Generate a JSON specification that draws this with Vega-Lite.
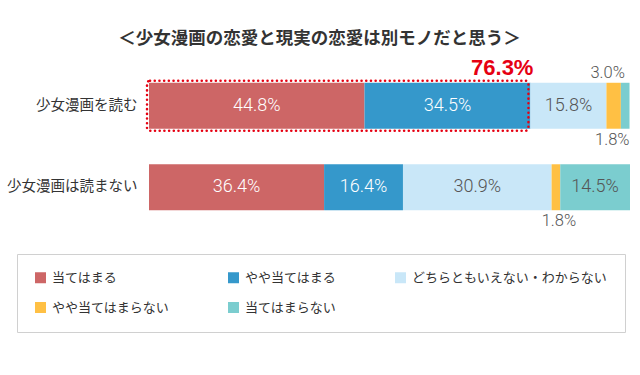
{
  "$schema": "https://vega.github.io/schema/vega-lite/v6.json",
  "autosize": "none",
  "width": 481,
  "height": 163,
  "padding": {"left": 149, "top": 65, "right": 10, "bottom": 147},
  "background": "white",
  "title": {
    "text": "＜少女漫画の恋愛と現実の恋愛は別モノだと思う＞",
    "font": "Noto Sans CJK JP",
    "fontSize": 17.5,
    "fontWeight": "bold",
    "color": "#333333",
    "anchor": "middle",
    "dx": -70,
    "offset": 9
  },
  "data": {
    "values": [
      {"cat": "少女漫画を読む", "resp": "当てはまる", "k": 1, "value": 0.448},
      {"cat": "少女漫画を読む", "resp": "やや当てはまる", "k": 2, "value": 0.345},
      {"cat": "少女漫画を読む", "resp": "どちらともいえない・わからない", "k": 3, "value": 0.158},
      {"cat": "少女漫画を読む", "resp": "やや当てはまらない", "k": 4, "value": 0.030},
      {"cat": "少女漫画を読む", "resp": "当てはまらない", "k": 5, "value": 0.018},
      {"cat": "少女漫画は読まない", "resp": "当てはまる", "k": 1, "value": 0.364},
      {"cat": "少女漫画は読まない", "resp": "やや当てはまる", "k": 2, "value": 0.164},
      {"cat": "少女漫画は読まない", "resp": "どちらともいえない・わからない", "k": 3, "value": 0.309},
      {"cat": "少女漫画は読まない", "resp": "やや当てはまらない", "k": 4, "value": 0.018},
      {"cat": "少女漫画は読まない", "resp": "当てはまらない", "k": 5, "value": 0.145}
    ]
  },
  "encoding": {
    "y": {
      "field": "cat",
      "type": "nominal",
      "scale": {"domain": ["少女漫画を読む", "少女漫画は読まない"], "paddingInner": 0.436, "paddingOuter": 0.218},
      "axis": {"title": null, "domain": false, "ticks": false, "labelPadding": 12, "labelFont": "Noto Sans CJK JP", "labelFontSize": 14.5, "labelColor": "#333333"}
    }
  },
  "layer": [
    {
      "mark": {"type": "bar"},
      "encoding": {
        "x": {"field": "value", "type": "quantitative", "stack": "zero", "scale": {"domain": [0, 1]}, "axis": null},
        "order": {"field": "k", "type": "quantitative"},
        "color": {
          "field": "resp",
          "type": "nominal",
          "scale": {
            "domain": ["当てはまる", "やや当てはまる", "どちらともいえない・わからない", "やや当てはまらない", "当てはまらない"],
            "range": ["#CD6666", "#3598CB", "#C9E7F8", "#FFC044", "#7BCDCF"]
          },
          "legend": {
            "title": null,
            "orient": "none",
            "legendX": -132,
            "legendY": 189,
            "direction": "horizontal",
            "columns": 3,
            "columnPadding": 57,
            "rowPadding": 16,
            "padding": 17,
            "strokeColor": "#d0d0d0",
            "symbolType": "square",
            "symbolSize": 121,
            "symbolStrokeWidth": 0,
            "labelFont": "Noto Sans CJK JP",
            "labelFontSize": 13,
            "labelColor": "#333333",
            "labelOffset": 5,
            "labelLimit": 400
          }
        }
      }
    },
    {
      "mark": {"type": "text", "font": "Roboto", "fontWeight": 300, "fontSize": 18, "baseline": "middle", "align": "center"},
      "encoding": {
        "x": {"field": "value", "type": "quantitative", "stack": "zero", "bandPosition": 0.5},
        "order": {"field": "k", "type": "quantitative"},
        "text": {"condition": {"test": "datum.value >= 0.05", "field": "value", "format": ".1%"}, "value": ""},
        "color": {"condition": {"test": "datum.k <= 2", "value": "#ffffff"}, "value": "#555555"}
      }
    },
    {
      "mark": {"type": "text", "font": "Roboto", "fontWeight": 300, "fontSize": 16.5, "baseline": "middle", "align": "right", "dx": 4, "dy": -10, "color": "#555555"},
      "encoding": {
        "x": {"field": "value", "type": "quantitative", "stack": "zero", "bandPosition": 1},
        "y": {"field": "cat", "type": "nominal", "bandPosition": 0},
        "order": {"field": "k", "type": "quantitative"},
        "text": {"condition": {"test": "datum.cat === '少女漫画を読む' && datum.k === 4", "field": "value", "format": ".1%"}, "value": ""}
      }
    },
    {
      "mark": {"type": "text", "font": "Roboto", "fontWeight": 300, "fontSize": 16.5, "baseline": "middle", "align": "right", "dx": 0, "dy": 11, "color": "#555555"},
      "encoding": {
        "x": {"field": "value", "type": "quantitative", "stack": "zero", "bandPosition": 1},
        "y": {"field": "cat", "type": "nominal", "bandPosition": 1},
        "order": {"field": "k", "type": "quantitative"},
        "text": {"condition": {"test": "datum.cat === '少女漫画を読む' && datum.k === 5", "field": "value", "format": ".1%"}, "value": ""}
      }
    },
    {
      "mark": {"type": "text", "font": "Roboto", "fontWeight": 300, "fontSize": 16.5, "baseline": "middle", "align": "center", "dx": 3, "dy": 11, "color": "#555555"},
      "encoding": {
        "x": {"field": "value", "type": "quantitative", "stack": "zero", "bandPosition": 0.5},
        "y": {"field": "cat", "type": "nominal", "bandPosition": 1},
        "order": {"field": "k", "type": "quantitative"},
        "text": {"condition": {"test": "datum.cat === '少女漫画は読まない' && datum.k === 4", "field": "value", "format": ".1%"}, "value": ""}
      }
    },
    {
      "transform": [
        {"filter": "datum.cat === '少女漫画を読む' && datum.k <= 2"},
        {"aggregate": [{"op": "sum", "field": "value", "as": "total"}], "groupby": ["cat"]}
      ],
      "mark": {"type": "bar", "size": 50, "filled": false, "stroke": "#E60012", "strokeWidth": 2.5, "strokeDash": [0.1, 4.6], "strokeCap": "round", "cornerRadius": 3, "xOffset": -2, "x2Offset": -2},
      "encoding": {
        "x": {"field": "total", "type": "quantitative"},
        "x2": {"datum": 0}
      }
    },
    {
      "transform": [
        {"filter": "datum.cat === '少女漫画を読む' && datum.k <= 2"},
        {"aggregate": [{"op": "sum", "field": "value", "as": "total"}], "groupby": ["cat"]}
      ],
      "mark": {"type": "text", "text": "76.3%", "font": "Liberation Sans", "fontWeight": "bold", "fontSize": 22, "color": "#E60012", "align": "right", "baseline": "alphabetic", "dx": 3, "dy": -8},
      "encoding": {
        "x": {"field": "total", "type": "quantitative"},
        "y": {"field": "cat", "type": "nominal", "bandPosition": 0}
      }
    }
  ],
  "config": {
    "view": {"stroke": null}
  }
}
